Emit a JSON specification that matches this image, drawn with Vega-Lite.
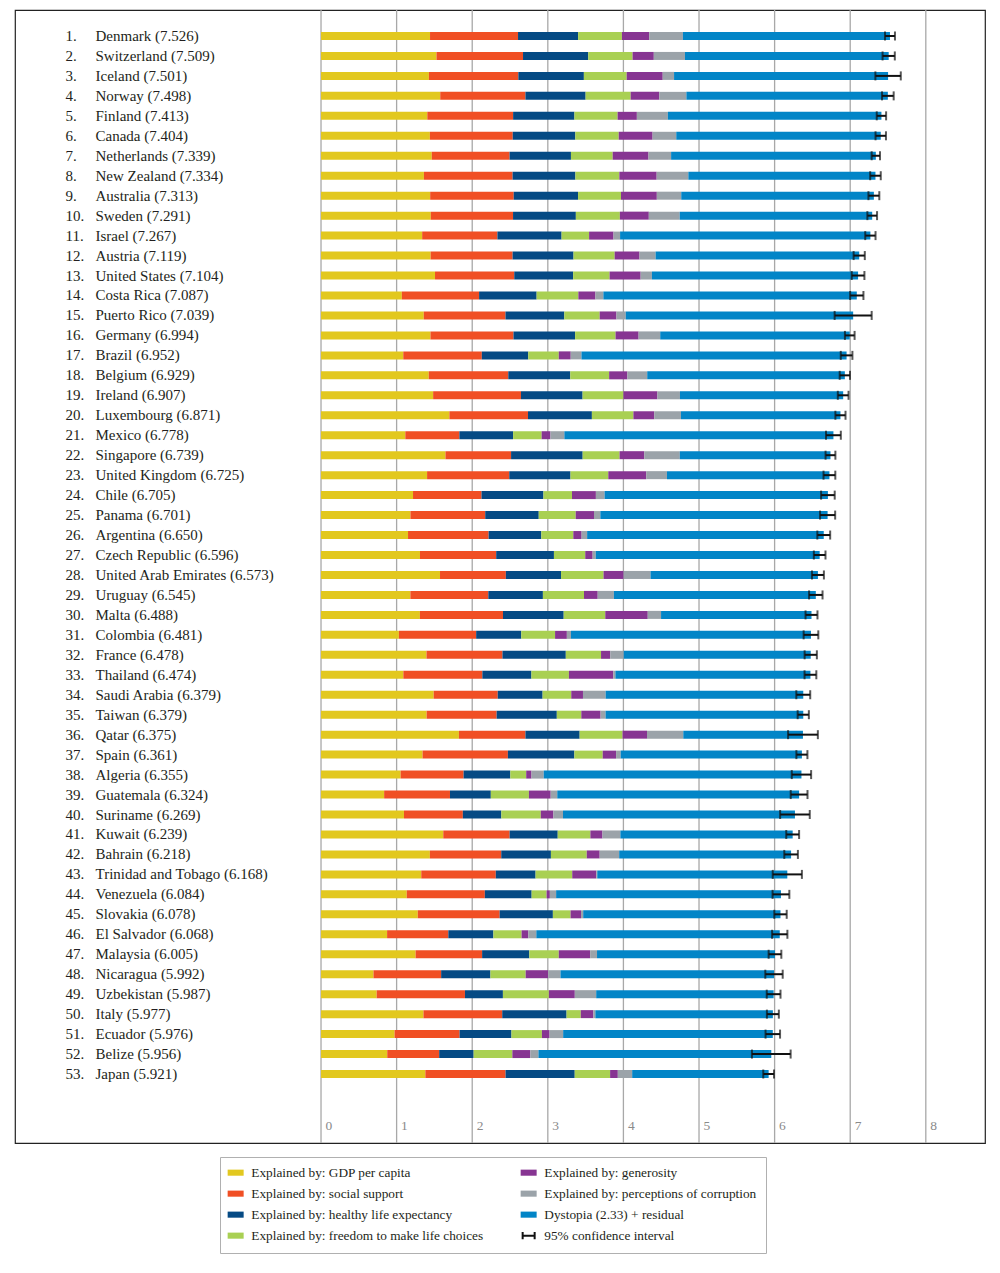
{
  "$schema": "https://vega.github.io/schema/vega-lite/v6.json",
  "width": 970,
  "height": 1133,
  "autosize": {"type": "none"},
  "padding": {"left": 15, "top": 10, "right": 15, "bottom": 130},
  "background": "white",
  "config": {"view": {"stroke": "#222222", "strokeWidth": 1.2}, "font": "Liberation Serif"},
  "datasets": {
    "gridlines": [{"tick": 0}, {"tick": 1}, {"tick": 2}, {"tick": 3}, {"tick": 4}, {"tick": 5}, {"tick": 6}, {"tick": 7}, {"tick": 8}],
    "components": [
      {"component": "gdp", "idx": 1, "part": "Explained by: GDP per capita"},
      {"component": "social", "idx": 2, "part": "Explained by: social support"},
      {"component": "health", "idx": 3, "part": "Explained by: healthy life expectancy"},
      {"component": "freedom", "idx": 4, "part": "Explained by: freedom to make life choices"},
      {"component": "generosity", "idx": 5, "part": "Explained by: generosity"},
      {"component": "corruption", "idx": 6, "part": "Explained by: perceptions of corruption"},
      {"component": "dystopia", "idx": 7, "part": "Dystopia (2.33) + residual"}
    ],
    "happiness": [
      {"rank": 1, "row_label": "1. Denmark (7.526)", "gdp": 1.442, "social": 1.164, "health": 0.795, "freedom": 0.579, "generosity": 0.362, "corruption": 0.445, "dystopia": 2.739, "lo": 7.460, "hi": 7.592},
      {"rank": 2, "row_label": "2. Switzerland (7.509)", "gdp": 1.527, "social": 1.145, "health": 0.863, "freedom": 0.586, "generosity": 0.281, "corruption": 0.412, "dystopia": 2.695, "lo": 7.428, "hi": 7.590},
      {"rank": 3, "row_label": "3. Iceland (7.501)", "gdp": 1.427, "social": 1.183, "health": 0.867, "freedom": 0.566, "generosity": 0.477, "corruption": 0.150, "dystopia": 2.831, "lo": 7.333, "hi": 7.669},
      {"rank": 4, "row_label": "4. Norway (7.498)", "gdp": 1.577, "social": 1.127, "health": 0.796, "freedom": 0.596, "generosity": 0.379, "corruption": 0.358, "dystopia": 2.665, "lo": 7.421, "hi": 7.575},
      {"rank": 5, "row_label": "5. Finland (7.413)", "gdp": 1.406, "social": 1.135, "health": 0.811, "freedom": 0.571, "generosity": 0.255, "corruption": 0.410, "dystopia": 2.825, "lo": 7.351, "hi": 7.475},
      {"rank": 6, "row_label": "6. Canada (7.404)", "gdp": 1.440, "social": 1.096, "health": 0.828, "freedom": 0.574, "generosity": 0.448, "corruption": 0.313, "dystopia": 2.705, "lo": 7.335, "hi": 7.473},
      {"rank": 7, "row_label": "7. Netherlands (7.339)", "gdp": 1.465, "social": 1.029, "health": 0.812, "freedom": 0.552, "generosity": 0.474, "corruption": 0.299, "dystopia": 2.708, "lo": 7.284, "hi": 7.394},
      {"rank": 8, "row_label": "8. New Zealand (7.334)", "gdp": 1.361, "social": 1.173, "health": 0.831, "freedom": 0.581, "generosity": 0.494, "corruption": 0.419, "dystopia": 2.475, "lo": 7.264, "hi": 7.404},
      {"rank": 9, "row_label": "9. Australia (7.313)", "gdp": 1.444, "social": 1.105, "health": 0.851, "freedom": 0.568, "generosity": 0.474, "corruption": 0.323, "dystopia": 2.548, "lo": 7.241, "hi": 7.385},
      {"rank": 10, "row_label": "10. Sweden (7.291)", "gdp": 1.452, "social": 1.088, "health": 0.831, "freedom": 0.582, "generosity": 0.383, "corruption": 0.409, "dystopia": 2.546, "lo": 7.227, "hi": 7.355},
      {"rank": 11, "row_label": "11. Israel (7.267)", "gdp": 1.338, "social": 0.995, "health": 0.849, "freedom": 0.364, "generosity": 0.323, "corruption": 0.087, "dystopia": 3.311, "lo": 7.199, "hi": 7.335},
      {"rank": 12, "row_label": "12. Austria (7.119)", "gdp": 1.450, "social": 1.084, "health": 0.806, "freedom": 0.544, "generosity": 0.329, "corruption": 0.213, "dystopia": 2.693, "lo": 7.045, "hi": 7.193},
      {"rank": 13, "row_label": "13. United States (7.104)", "gdp": 1.508, "social": 1.048, "health": 0.779, "freedom": 0.482, "generosity": 0.411, "corruption": 0.149, "dystopia": 2.727, "lo": 7.020, "hi": 7.188},
      {"rank": 14, "row_label": "14. Costa Rica (7.087)", "gdp": 1.069, "social": 1.022, "health": 0.761, "freedom": 0.552, "generosity": 0.226, "corruption": 0.105, "dystopia": 3.352, "lo": 6.999, "hi": 7.175},
      {"rank": 15, "row_label": "15. Puerto Rico (7.039)", "gdp": 1.359, "social": 1.081, "health": 0.778, "freedom": 0.468, "generosity": 0.222, "corruption": 0.123, "dystopia": 3.008, "lo": 6.794, "hi": 7.284},
      {"rank": 16, "row_label": "16. Germany (6.994)", "gdp": 1.448, "social": 1.098, "health": 0.815, "freedom": 0.535, "generosity": 0.305, "corruption": 0.286, "dystopia": 2.507, "lo": 6.930, "hi": 7.058},
      {"rank": 17, "row_label": "17. Brazil (6.952)", "gdp": 1.088, "social": 1.039, "health": 0.614, "freedom": 0.404, "generosity": 0.158, "corruption": 0.142, "dystopia": 3.507, "lo": 6.875, "hi": 7.029},
      {"rank": 18, "row_label": "18. Belgium (6.929)", "gdp": 1.425, "social": 1.052, "health": 0.820, "freedom": 0.514, "generosity": 0.242, "corruption": 0.262, "dystopia": 2.614, "lo": 6.861, "hi": 6.997},
      {"rank": 19, "row_label": "19. Ireland (6.907)", "gdp": 1.483, "social": 1.162, "health": 0.815, "freedom": 0.540, "generosity": 0.450, "corruption": 0.298, "dystopia": 2.159, "lo": 6.836, "hi": 6.978},
      {"rank": 20, "row_label": "20. Luxembourg (6.871)", "gdp": 1.698, "social": 1.040, "health": 0.845, "freedom": 0.549, "generosity": 0.276, "corruption": 0.353, "dystopia": 2.110, "lo": 6.804, "hi": 6.938},
      {"rank": 21, "row_label": "21. Mexico (6.778)", "gdp": 1.115, "social": 0.715, "health": 0.711, "freedom": 0.377, "generosity": 0.117, "corruption": 0.184, "dystopia": 3.559, "lo": 6.680, "hi": 6.876},
      {"rank": 22, "row_label": "22. Singapore (6.739)", "gdp": 1.646, "social": 0.868, "health": 0.947, "freedom": 0.488, "generosity": 0.327, "corruption": 0.470, "dystopia": 1.993, "lo": 6.674, "hi": 6.804},
      {"rank": 23, "row_label": "23. United Kingdom (6.725)", "gdp": 1.403, "social": 1.087, "health": 0.810, "freedom": 0.500, "generosity": 0.502, "corruption": 0.274, "dystopia": 2.149, "lo": 6.647, "hi": 6.803},
      {"rank": 24, "row_label": "24. Chile (6.705)", "gdp": 1.217, "social": 0.906, "health": 0.819, "freedom": 0.378, "generosity": 0.316, "corruption": 0.115, "dystopia": 2.954, "lo": 6.615, "hi": 6.795},
      {"rank": 25, "row_label": "25. Panama (6.701)", "gdp": 1.183, "social": 0.989, "health": 0.708, "freedom": 0.489, "generosity": 0.242, "corruption": 0.084, "dystopia": 3.006, "lo": 6.601, "hi": 6.801},
      {"rank": 26, "row_label": "26. Argentina (6.650)", "gdp": 1.151, "social": 1.066, "health": 0.697, "freedom": 0.423, "generosity": 0.110, "corruption": 0.073, "dystopia": 3.130, "lo": 6.565, "hi": 6.735},
      {"rank": 27, "row_label": "27. Czech Republic (6.596)", "gdp": 1.309, "social": 1.008, "health": 0.764, "freedom": 0.414, "generosity": 0.098, "corruption": 0.041, "dystopia": 2.962, "lo": 6.519, "hi": 6.673},
      {"rank": 28, "row_label": "28. United Arab Emirates (6.573)", "gdp": 1.574, "social": 0.871, "health": 0.730, "freedom": 0.562, "generosity": 0.266, "corruption": 0.356, "dystopia": 2.214, "lo": 6.494, "hi": 6.652},
      {"rank": 29, "row_label": "29. Uruguay (6.545)", "gdp": 1.182, "social": 1.031, "health": 0.722, "freedom": 0.544, "generosity": 0.181, "corruption": 0.214, "dystopia": 2.671, "lo": 6.456, "hi": 6.634},
      {"rank": 30, "row_label": "30. Malta (6.488)", "gdp": 1.308, "social": 1.099, "health": 0.803, "freedom": 0.550, "generosity": 0.562, "corruption": 0.176, "dystopia": 1.990, "lo": 6.409, "hi": 6.567},
      {"rank": 31, "row_label": "31. Colombia (6.481)", "gdp": 1.030, "social": 1.022, "health": 0.597, "freedom": 0.447, "generosity": 0.156, "corruption": 0.054, "dystopia": 3.175, "lo": 6.384, "hi": 6.578},
      {"rank": 32, "row_label": "32. France (6.478)", "gdp": 1.395, "social": 1.005, "health": 0.838, "freedom": 0.466, "generosity": 0.122, "corruption": 0.178, "dystopia": 2.474, "lo": 6.397, "hi": 6.559},
      {"rank": 33, "row_label": "33. Thailand (6.474)", "gdp": 1.089, "social": 1.045, "health": 0.649, "freedom": 0.496, "generosity": 0.587, "corruption": 0.028, "dystopia": 2.580, "lo": 6.396, "hi": 6.552},
      {"rank": 34, "row_label": "34. Saudi Arabia (6.379)", "gdp": 1.490, "social": 0.848, "health": 0.593, "freedom": 0.379, "generosity": 0.155, "corruption": 0.300, "dystopia": 2.614, "lo": 6.287, "hi": 6.471},
      {"rank": 35, "row_label": "35. Taiwan (6.379)", "gdp": 1.397, "social": 0.926, "health": 0.796, "freedom": 0.324, "generosity": 0.255, "corruption": 0.066, "dystopia": 2.615, "lo": 6.305, "hi": 6.453},
      {"rank": 36, "row_label": "36. Qatar (6.375)", "gdp": 1.824, "social": 0.880, "health": 0.717, "freedom": 0.567, "generosity": 0.324, "corruption": 0.480, "dystopia": 1.583, "lo": 6.178, "hi": 6.572},
      {"rank": 37, "row_label": "37. Spain (6.361)", "gdp": 1.343, "social": 1.129, "health": 0.879, "freedom": 0.375, "generosity": 0.177, "corruption": 0.061, "dystopia": 2.397, "lo": 6.288, "hi": 6.434},
      {"rank": 38, "row_label": "38. Algeria (6.355)", "gdp": 1.053, "social": 0.833, "health": 0.618, "freedom": 0.210, "generosity": 0.070, "corruption": 0.162, "dystopia": 3.409, "lo": 6.227, "hi": 6.483},
      {"rank": 39, "row_label": "39. Guatemala (6.324)", "gdp": 0.835, "social": 0.871, "health": 0.540, "freedom": 0.504, "generosity": 0.288, "corruption": 0.087, "dystopia": 3.199, "lo": 6.213, "hi": 6.435},
      {"rank": 40, "row_label": "40. Suriname (6.269)", "gdp": 1.097, "social": 0.779, "health": 0.509, "freedom": 0.522, "generosity": 0.167, "corruption": 0.127, "dystopia": 3.068, "lo": 6.073, "hi": 6.465},
      {"rank": 41, "row_label": "41. Kuwait (6.239)", "gdp": 1.617, "social": 0.878, "health": 0.636, "freedom": 0.432, "generosity": 0.160, "corruption": 0.237, "dystopia": 2.279, "lo": 6.154, "hi": 6.324},
      {"rank": 42, "row_label": "42. Bahrain (6.218)", "gdp": 1.440, "social": 0.944, "health": 0.657, "freedom": 0.474, "generosity": 0.171, "corruption": 0.258, "dystopia": 2.274, "lo": 6.128, "hi": 6.308},
      {"rank": 43, "row_label": "43. Trinidad and Tobago (6.168)", "gdp": 1.326, "social": 0.986, "health": 0.526, "freedom": 0.485, "generosity": 0.319, "corruption": 0.012, "dystopia": 2.514, "lo": 5.975, "hi": 6.361},
      {"rank": 44, "row_label": "44. Venezuela (6.084)", "gdp": 1.134, "social": 1.033, "health": 0.619, "freedom": 0.198, "generosity": 0.043, "corruption": 0.083, "dystopia": 2.974, "lo": 5.973, "hi": 6.195},
      {"rank": 45, "row_label": "45. Slovakia (6.078)", "gdp": 1.280, "social": 1.083, "health": 0.704, "freedom": 0.234, "generosity": 0.138, "corruption": 0.029, "dystopia": 2.610, "lo": 5.996, "hi": 6.160},
      {"rank": 46, "row_label": "46. El Salvador (6.068)", "gdp": 0.874, "social": 0.810, "health": 0.596, "freedom": 0.373, "generosity": 0.089, "corruption": 0.106, "dystopia": 3.220, "lo": 5.967, "hi": 6.169},
      {"rank": 47, "row_label": "47. Malaysia (6.005)", "gdp": 1.251, "social": 0.880, "health": 0.624, "freedom": 0.390, "generosity": 0.415, "corruption": 0.091, "dystopia": 2.354, "lo": 5.921, "hi": 6.089},
      {"rank": 48, "row_label": "48. Nicaragua (5.992)", "gdp": 0.694, "social": 0.895, "health": 0.652, "freedom": 0.466, "generosity": 0.298, "corruption": 0.163, "dystopia": 2.824, "lo": 5.877, "hi": 6.107},
      {"rank": 49, "row_label": "49. Uzbekistan (5.987)", "gdp": 0.736, "social": 1.168, "health": 0.502, "freedom": 0.608, "generosity": 0.343, "corruption": 0.283, "dystopia": 2.347, "lo": 5.896, "hi": 6.078},
      {"rank": 50, "row_label": "50. Italy (5.977)", "gdp": 1.355, "social": 1.042, "health": 0.851, "freedom": 0.188, "generosity": 0.167, "corruption": 0.026, "dystopia": 2.348, "lo": 5.898, "hi": 6.056},
      {"rank": 51, "row_label": "51. Ecuador (5.976)", "gdp": 0.973, "social": 0.860, "health": 0.686, "freedom": 0.403, "generosity": 0.101, "corruption": 0.180, "dystopia": 2.773, "lo": 5.880, "hi": 6.072},
      {"rank": 52, "row_label": "52. Belize (5.956)", "gdp": 0.876, "social": 0.687, "health": 0.456, "freedom": 0.512, "generosity": 0.237, "corruption": 0.108, "dystopia": 3.080, "lo": 5.700, "hi": 6.212},
      {"rank": 53, "row_label": "53. Japan (5.921)", "gdp": 1.380, "social": 1.061, "health": 0.915, "freedom": 0.468, "generosity": 0.102, "corruption": 0.190, "dystopia": 1.805, "lo": 5.850, "hi": 5.992}
    ]
  },
  "layer": [
    {
      "data": {"name": "gridlines"},
      "mark": {"type": "rule", "color": "#a8a8a8", "strokeWidth": 1.3},
      "encoding": {
        "x": {
          "field": "tick", "type": "quantitative",
          "scale": {"domain": [-4.048, 8.783], "nice": false, "zero": false},
          "axis": {"values": [0, 1, 2, 3, 4, 5, 6, 7, 8], "format": "d", "title": null, "grid": false,
                   "domain": false, "ticks": false, "tickSize": 0, "labelAlign": "left", "labelBaseline": "middle",
                   "labelPadding": -18, "labelOffset": 4, "labelColor": "#8a8a8a", "labelFont": "Liberation Serif", "labelFontSize": 13.5,
                   "labelFlush": false, "labelOverlap": false}
        }
      }
    },
    {
      "data": {"name": "happiness"},
      "transform": [
        {"fold": ["gdp", "social", "health", "freedom", "generosity", "corruption", "dystopia"], "as": ["component", "value"]},
        {"lookup": "component", "from": {"data": {"name": "components"}, "key": "component", "fields": ["idx", "part"]}}
      ],
      "mark": {"type": "bar", "size": 8},
      "encoding": {
        "y": {
          "field": "row_label", "type": "nominal", "sort": {"field": "rank", "op": "min"},
          "scale": {"paddingInner": 0, "paddingOuter": 0, "range": [16, 1074]},
          "axis": {"orient": "left", "title": null, "domain": false, "ticks": false, "tickSize": 0, "grid": false,
                   "labelAlign": "left", "labelBaseline": "middle", "labelPadding": -80,
                   "labelExpr": "slice(datum.value, indexof(datum.value, ' ') + 1)",
                   "labelFont": "Liberation Serif", "labelFontSize": 15, "labelColor": "#231f20", "labelLimit": 400, "labelOverlap": false}
        },
        "x": {
          "field": "value", "type": "quantitative", "stack": "zero",
          "scale": {"domain": [-4.048, 8.783], "nice": false, "zero": false},
          "axis": {"values": [0, 1, 2, 3, 4, 5, 6, 7, 8], "format": "d", "title": null, "grid": false,
                   "domain": false, "ticks": false, "tickSize": 0, "labelAlign": "left", "labelBaseline": "middle",
                   "labelPadding": -18, "labelOffset": 4, "labelColor": "#8a8a8a", "labelFont": "Liberation Serif", "labelFontSize": 13.5,
                   "labelFlush": false, "labelOverlap": false}
        },
        "color": {
          "field": "part", "type": "nominal",
          "scale": {
            "domain": ["Explained by: GDP per capita", "Explained by: social support", "Explained by: healthy life expectancy", "Explained by: freedom to make life choices", "Explained by: generosity", "Explained by: perceptions of corruption", "Dystopia (2.33) + residual", "95% confidence interval"],
            "range": ["#E2C81F", "#F04F24", "#054A84", "#A9D053", "#873592", "#9BA3A9", "#0285C7", "#111111"]
          },
          "legend": {
            "title": null, "orient": "none", "legendX": 205, "legendY": 1147, "columns": 2, "columnPadding": 34, "rowPadding": 7,
            "padding": 9, "strokeColor": "#b0b0b0", "labelFont": "Liberation Serif", "labelFontSize": 13.3, "labelColor": "#231f20",
            "labelLimit": 400, "labelOffset": 9, "symbolType": "M-1,-0.38H1V0.38H-1Z", "symbolSize": 256, "symbolStrokeWidth": 0,
            "encode": {
              "symbols": {
                "update": {
                  "shape": {"signal": "datum.value == '95% confidence interval' ? 'M-0.75,-0.45V0.45M-0.75,0H0.75M0.75,-0.45V0.45' : 'M-1,-0.38H1V0.38H-1Z'"},
                  "stroke": {"signal": "datum.value == '95% confidence interval' ? '#111111' : 'transparent'"},
                  "strokeWidth": {"signal": "datum.value == '95% confidence interval' ? 2 : 0"}
                }
              }
            }
          }
        },
        "order": {"field": "idx", "type": "quantitative"}
      }
    },
    {
      "data": {"name": "happiness"},
      "mark": {"type": "rule", "color": "#111111", "strokeWidth": 2},
      "encoding": {
        "y": {
          "field": "row_label", "type": "nominal", "sort": {"field": "rank", "op": "min"},
          "axis": {"orient": "left", "title": null, "domain": false, "ticks": false, "tickSize": 0, "grid": false,
                   "labelAlign": "left", "labelBaseline": "middle", "labelPadding": -50,
                   "labelExpr": "slice(datum.value, 0, indexof(datum.value, ' '))",
                   "labelFont": "Liberation Serif", "labelFontSize": 15, "labelColor": "#231f20", "labelLimit": 400, "labelOverlap": false}
        },
        "x": {"field": "lo", "type": "quantitative"},
        "x2": {"field": "hi"}
      }
    },
    {
      "data": {"name": "happiness"},
      "transform": [{"fold": ["lo", "hi"], "as": ["end", "ci"]}],
      "mark": {"type": "tick", "color": "#111111", "size": 9, "thickness": 2},
      "encoding": {
        "y": {"field": "row_label", "type": "nominal", "sort": {"field": "rank", "op": "min"}, "axis": null},
        "x": {"field": "ci", "type": "quantitative"}
      }
    }
  ],
  "resolve": {"axis": {"y": "independent"}}
}
